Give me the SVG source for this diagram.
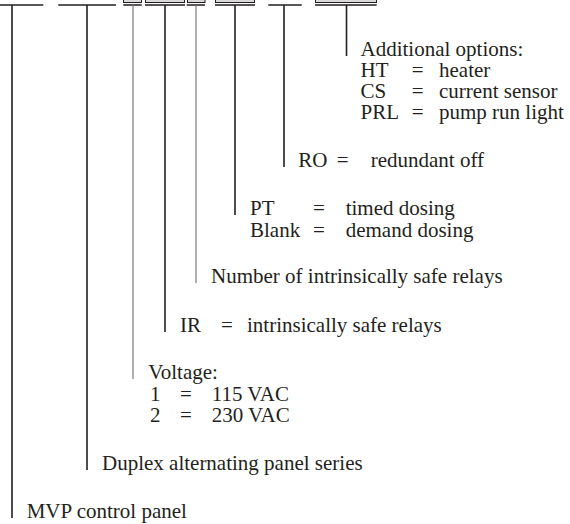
<svg xmlns="http://www.w3.org/2000/svg" width="570" height="524" viewBox="0 0 570 524">
<style>
  text { font-family: "Liberation Serif", "Times New Roman", serif; font-size: 21px; fill: #231f20; }
  .ln { stroke: #231f20; stroke-width: 1.6; fill: none; }
  .lg { stroke: #7a7a7a; stroke-width: 1.2; fill: none; }
  .box { fill: #d9d9d9; stroke: #231f20; stroke-width: 1; }
</style>
<rect width="570" height="524" fill="#ffffff"/>
<g id="code-boxes">
  <rect class="box" x="123.5" y="-5" width="18" height="7.5"/>
  <rect class="box" x="145.5" y="-5" width="39" height="7.5"/>
  <rect class="box" x="187.5" y="-5" width="17.5" height="7.5"/>
  <rect class="box" x="215.5" y="-5" width="39" height="7.5"/>
  <rect class="box" x="315.5" y="-5" width="61" height="7.5"/>
</g>
<g id="connectors">
  <path class="ln" d="M0 5H43.3M58.3 5H116M123.3 5H141.7M145 5H185M186.7 5H205M215 5H255M268.3 5H301.7M315 5H376.7"/>
  <path class="ln" d="M12 5V518"/>
  <path class="ln" d="M87 5V470"/>
  <path class="lg" d="M133 5V379"/>
  <path class="ln" d="M165 5V332"/>
  <path class="lg" d="M196 5V283"/>
  <path class="ln" d="M235 5V215"/>
  <path class="ln" d="M284 5V167"/>
  <path class="ln" d="M346.5 5V56"/>
</g>
<g id="additional-options">
  <text x="360.5" y="56">Additional options:</text>
  <text x="360.5" y="77">HT</text><text x="411.7" y="77">=</text><text x="439" y="77">heater</text>
  <text x="360.5" y="98">CS</text><text x="411.7" y="98">=</text><text x="439" y="98">current sensor</text>
  <text x="360.5" y="119">PRL</text><text x="411.7" y="119">=</text><text x="439" y="119">pump run light</text>
</g>
<g id="redundant-off">
  <text x="298.3" y="167">RO</text><text x="336.7" y="167">=</text><text x="370.7" y="167">redundant off</text>
</g>
<g id="dosing">
  <text x="250" y="215">PT</text><text x="313" y="215">=</text><text x="345.7" y="215">timed dosing</text>
  <text x="250" y="236.5">Blank</text><text x="313" y="236.5">=</text><text x="345.7" y="236.5">demand dosing</text>
</g>
<g id="number-relays">
  <text x="211" y="283">Number of intrinsically safe relays</text>
</g>
<g id="intrinsically-safe">
  <text x="180" y="332">IR</text><text x="221" y="332">=</text><text x="247" y="332">intrinsically safe relays</text>
</g>
<g id="voltage">
  <text x="148.3" y="379">Voltage:</text>
  <text x="150" y="400.5">1</text><text x="180" y="400.5">=</text><text x="211.7" y="400.5">115 VAC</text>
  <text x="150" y="422">2</text><text x="180" y="422">=</text><text x="211.7" y="422">230 VAC</text>
</g>
<g id="duplex-series">
  <text x="102" y="470">Duplex alternating panel series</text>
</g>
<g id="mvp-panel">
  <text x="26.7" y="518">MVP control panel</text>
</g>
</svg>
